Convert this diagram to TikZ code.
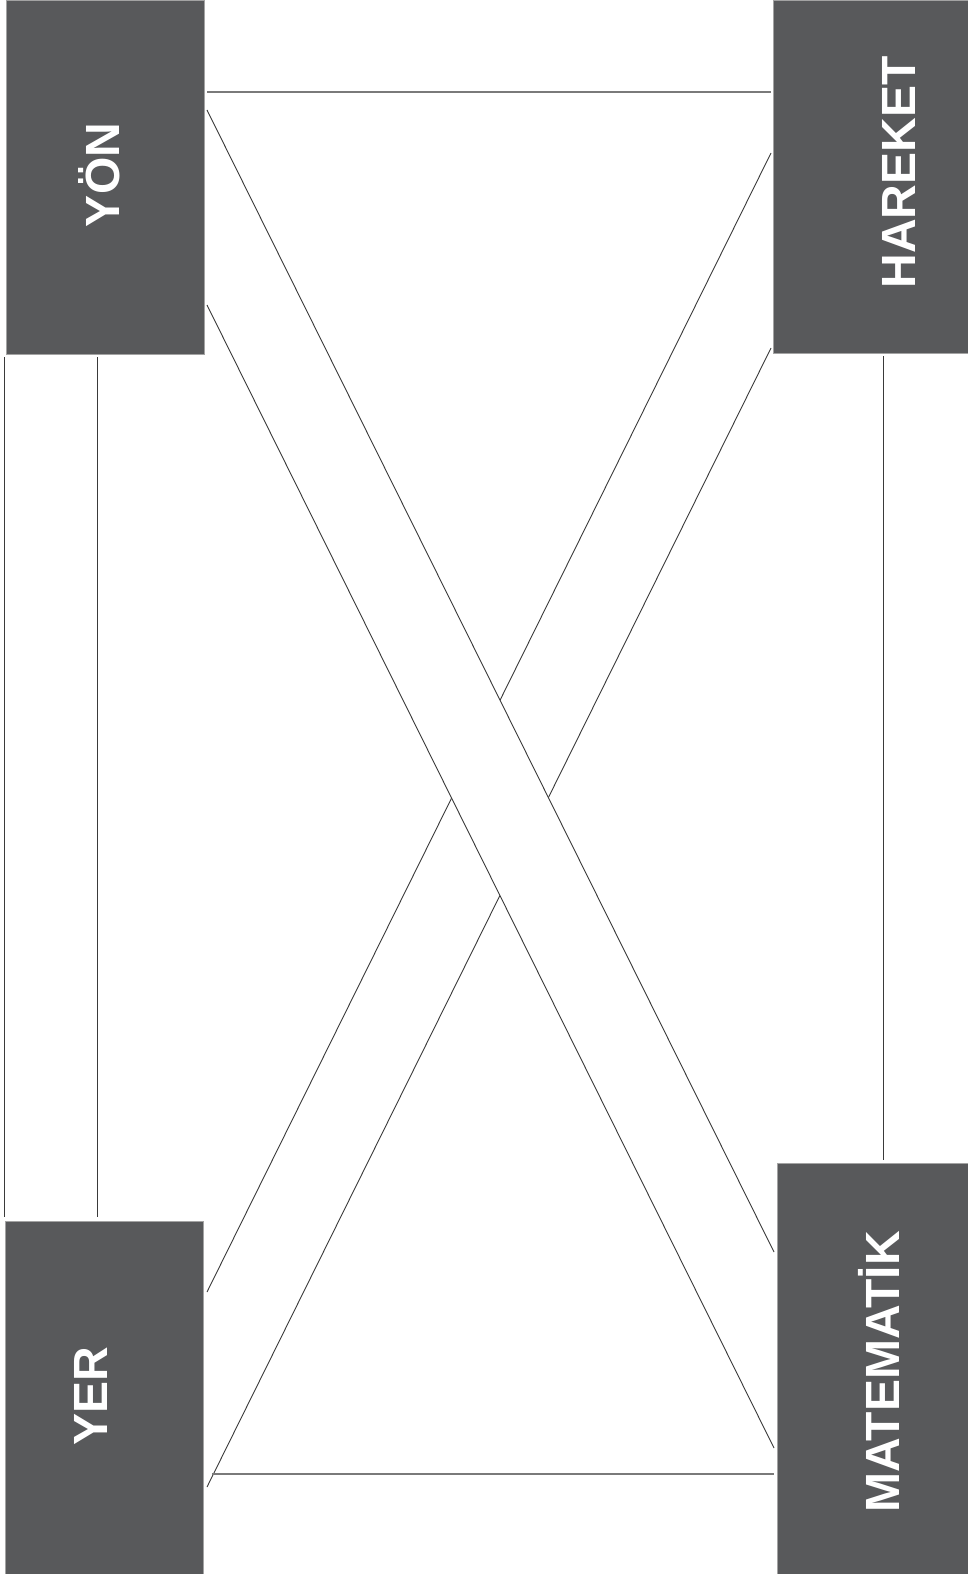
\documentclass[tikz,border=0pt]{standalone}
\usepackage{fontspec}
\setmainfont{Liberation Sans}
\usetikzlibrary{calc}
\definecolor{boxgray}{HTML}{58595B}
\definecolor{edgegray}{HTML}{A3A3A3}
\definecolor{diagcol}{HTML}{3A3A3A}
\definecolor{hcol}{HTML}{7A7A7A}
\tikzset{
  box/.style={rectangle, fill=boxgray, draw=edgegray, line width=0.8pt, inner sep=0pt, outer sep=0pt},
  lbl/.style={text=white, rotate=90, anchor=base, inner sep=0pt, font=\bfseries\fontsize{48}{52}\selectfont},
  diag/.style={draw=diagcol, line width=0.9pt},
  hline/.style={draw=hcol, line width=1.3pt},
  vline/.style={draw=diagcol, line width=1pt},
  cutband/.style={fill=white, draw=none}
}
\begin{document}
\begin{tikzpicture}[x=1pt,y=-1pt]
\useasboundingbox (0,0) rectangle (967,1574);
% boxes
\node[box, minimum width=198, minimum height=354] (yon) at (105,177) {};
\node[box, minimum width=196, minimum height=353] (harek) at (871,176.5) {};
\node[box, minimum width=198, minimum height=353] (yer) at (104,1397.5) {};
\node[box, minimum width=192, minimum height=411] (mat) at (873,1368.5) {};
% labels
\node[lbl] (tyon) at (119,175) {YÖN};
\node[lbl] (tharek) at (915,172.5) {HAREKET};
\node[lbl] (tyer) at (107,1396.5) {YER};
\node[lbl] (tmat) at (899,1371.7) {MATEMATİK};
% under band: HAREKET -- YER
\draw[diag] ($(harek.north west)+(-2,153)$) -- ($(yer.north east)+(4,71)$);
\draw[diag] ($(harek.north west)+(-2,348)$) -- ($(yer.north east)+(4,266)$);
% gap for crossing
\fill[cutband] ($(yon.north east)+(3,110)$) -- ($(mat.north west)+(-3,89)$) -- ($(mat.north west)+(-3,285)$) -- ($(yon.north east)+(3,305)$) -- cycle;
% over band: YÖN -- MATEMATİK
\draw[diag] ($(yon.north east)+(3,110)$) -- ($(mat.north west)+(-3,89)$);
\draw[diag] ($(yon.north east)+(3,305)$) -- ($(mat.north west)+(-3,285)$);
% horizontals
\draw[hline] ($(yon.north east)+(3,92)$) -- ($(harek.north west)+(-2,92)$);
\draw[hline] ($(yer.north east)+(9,253)$) -- ($(mat.north west)+(-3,311)$);
% verticals
\draw[vline] ($(yon.south west)+(-1.5,3)$) -- ($(yer.north west)+(-0.5,-4)$);
\draw[vline] ($(yon.south west)+(91,3)$) -- ($(yer.north west)+(92,-4)$);
\draw[vline] ($(harek.south west)+(110,3)$) -- ($(mat.north west)+(106,-3)$);
\end{tikzpicture}
\end{document}
